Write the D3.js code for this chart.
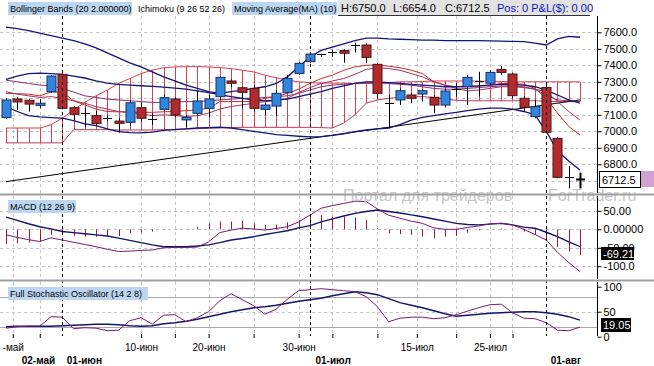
<!DOCTYPE html>
<html>
<head>
<meta charset="utf-8">
<script src="https://cdn.jsdelivr.net/npm/d3@7"></script>
<style>
  body { margin: 0; background: #fff; }
  svg { display: block; font-family: "Liberation Sans", Arial, sans-serif; }
</style>
</head>
<body>
<svg id="chart" width="654" height="366"></svg>
<script>
// candles, one per trading day (index = slot on the x axis)
const openP  = [7083,7196,7188,7157,7240,7345,7143,7105,7095,7080,7062,7054,7143,7077,7133,7196,7069,7109,7139,7210,
                7305,7264,7260,7133,7153,7234,7351,7422,7456,7476,7489,7520,7523,7406,7172,7190,7220,7226,7206,7159,
                7252,7270,7303,7291,7375,7347,7200,7089,7266,6957,6721,6710];
const highP  = [7200,7206,7198,7196,7341,7351,7153,7143,7123,7095,7079,7190,7173,7109,7220,7206,7099,7246,7220,7335,
                7315,7270,7280,7170,7250,7341,7422,7472,7470,7493,7497,7537,7533,7416,7220,7260,7230,7255,7220,7260,
                7290,7341,7361,7371,7396,7355,7214,7190,7291,6967,6790,6750];
const lowP   = [7075,7129,7119,7139,7234,7133,7068,7024,7038,7062,6992,7032,7058,7038,7119,7089,7024,7095,7085,7190,
                7270,7139,7119,7099,7093,7230,7341,7412,7452,7452,7416,7477,7412,7200,7018,7160,7170,7180,7109,7145,
                7210,7159,7210,7281,7341,7200,7119,7079,6988,6715,6654,6654];
const closeP = [7190,7178,7165,7170,7335,7139,7103,7113,7048,7078,7048,7173,7079,7074,7204,7099,7085,7184,7196,7327,
                7291,7236,7139,7159,7230,7321,7412,7468,7466,7479,7473,7522,7448,7230,7168,7246,7200,7246,7159,7244,
                7258,7327,7306,7357,7357,7216,7145,7149,6994,6721,6722,6712.5];

// Bollinger Bands (20, 2)
const bbUpper = [7632,7622,7610,7595,7580,7565,7550,7530,7505,7475,7445,7415,7390,7360,7330,7305,7280,7260,7240,7230,
                 7240,7250,7260,7270,7290,7330,7390,7450,7490,7510,7530,7550,7565,7565,7560,7558,7555,7553,7552,7550,
                 7550,7550,7550,7548,7546,7545,7544,7535,7523,7560,7575,7570];
const bbMid   = [7315,7335,7350,7353,7350,7345,7335,7323,7305,7292,7285,7280,7276,7272,7268,7262,7255,7245,7235,7222,
                 7210,7200,7190,7185,7190,7195,7210,7225,7240,7260,7275,7290,7300,7300,7295,7290,7285,7280,7275,7270,
                 7270,7272,7275,7280,7285,7285,7280,7270,7250,7220,7190,7170];
const bbLower = [7150,7120,7095,7087,7083,7080,7065,7045,7035,7015,6998,6992,6990,6995,7005,7010,7015,7020,7022,7025,
                 7020,7010,7000,6990,6980,6975,6970,6966,6968,6975,6985,6998,7008,7015,7020,7040,7068,7085,7095,7105,
                 7115,7125,7135,7140,7140,7135,7120,7100,7000,6880,6820,6765];

// Ichimoku (9 26 52 26)
const tenkan = [7230,7228,7225,7215,7238,7238,7185,7160,7135,7120,7118,7116,7115,7115,7118,7120,7125,7130,7140,7180,
                7180,7180,7180,7200,7210,7230,7255,7290,7320,7340,7370,7390,7400,7402,7395,7385,7370,7350,7300,7280,
                7270,7270,7275,7280,7290,7290,7285,7260,7200,7110,7030,6977];
const kijun  = [7310,7300,7290,7280,7275,7260,7238,7215,7205,7195,7190,7185,7180,7175,7175,7178,7180,7180,7185,7190,
                7195,7200,7200,7205,7210,7215,7230,7250,7270,7280,7285,7290,7295,7295,7290,7285,7280,7270,7260,7255,
                7255,7260,7265,7270,7275,7275,7270,7255,7220,7190,7185,7180];
const spanA  = [7020,7020,7020,7020,7040,7079,7130,7175,7215,7250,7290,7320,7350,7371,7385,7390,7392,7392,7390,7386,
                7380,7370,7360,7340,7325,7310,7300,7295,7292,7292,7292,7290,7290,7290,7295,7300,7300,7302,7305,7305,
                7305,7305,7304,7303,7302,7300,7300,7300,7300,7300,7300,7300];
const spanB  = [6930,6930,6930,6930,6930,6930,7010,7010,7010,7010,7008,7008,7008,7008,7010,7012,7014,7016,7018,7020,
                7022,7024,7024,7024,7024,7024,7024,7024,7022,7020,7050,7100,7170,7190,7200,7205,7208,7210,7205,7195,
                7188,7185,7185,7185,7185,7185,7185,7185,7182,7180,7180,7180];

// Moving Average (10)
const ma10 = [7240,7225,7215,7205,7210,7200,7185,7170,7150,7135,7120,7115,7105,7095,7100,7095,7090,7095,7110,7135,
              7150,7160,7170,7180,7185,7200,7235,7265,7290,7305,7320,7345,7375,7385,7380,7370,7350,7330,7300,7280,
              7260,7245,7250,7260,7270,7270,7265,7255,7240,7180,7120,7068];

// user trendline (slot, price)
const trendSlots = [0, 51];
const trendPrices = [6695, 7190];

// MACD (12 26 9)
const macdLine = [-15,-22,-28,-33,-23,-29,-35,-41,-47,-54,-60,-59,-57,-56,-50,-49,-49,-48,-34,-9,
                  -2,3,1,-2,2,7,20,38,57,64,70,76,75,55,38,30,22,16,4,0,
                  0,5,9,15,16,12,0,-14,-29,-62,-90,-114];
const macdSignal = [33,24,15,7,1,-6,-9,-12,-15,-18,-24,-30,-36,-42,-47,-47,-47,-45,-42,-36,
                    -29,-25,-20,-14,-9,-4,4,10,20,28,36,43,48,52,48,44,39,34,28,22,
                    16,13,12,14,16,12,6,3,-8,-20,-34,-47];
const macdHist = [-40,-38,-36,-33,-15,-15,-18,-20,-20,-18,-18,-11,-9,-6,-1,0,0,7,16,21,
                  21,23,16,12,13,19,25,34,38,34,34,32,25,3,-11,-13,-15,-20,-24,-20,
                  -18,-9,-3,0,2,-1,-6,-15,-29,-47,-60,-69.21];

// Full Stochastic (14 2 8)
const stochK = [17,20,21,21,40,39,16,18,17,12,13,32,38,25,43,44,30,38,50,72,
                86,74,62,45,55,75,92,94,96,94,92,90,80,60,30,37,39,39,36,38,
                44,51,58,64,65,48,37,36,28,13,12,19.05];
const stochD = [20,21,21,21,21,22,23,24,25,25,24,22,21,22,26,28,31,35,40,45,
                50,54,58,60,63,67,71,74,77,82,86,90,88,84,76,68,63,58,52,46,
                41,43,45,47,48,49,50,50,48,45,40,33];

// x axis
const xTickSlots  = [0.6, 3, 12, 15, 18, 22, 26, 29, 33, 36.5, 40, 43, 45];
const xTickLabels = ["-май", "", "10-июн", "", "20-июн", "", "30-июн", "", "", "15-июл", "", "25-июл", ""];
const monthSlots  = [5, 27, 48];
const boldLabels  = ["02-май", "01-июн", "01-июл", "01-авг"];
const boldSlots   = [1.4, 5.4, 27.5, 48.4];

const priceTicks = [6800, 6900, 7000, 7100, 7200, 7300, 7400, 7500, 7600];
const macdTicks  = [50, 0, -50, -100];
const macdTickText = ["50.00", "0.00000", "-50.00", "-100.0"];
const stochTicks = [100, 50, 0];

const svg = d3.select('#chart');
const W = 597;

const x = d3.scaleLinear().domain([0, 51]).range([6, 580]);
const yMain = d3.scaleLinear().domain([6700, 7600]).range([180.8, 32.3]);
const yMacd = d3.scaleLinear().domain([-100, 50]).range([266.3, 210.8]);
const ySto  = d3.scaleLinear().domain([0, 100]).range([336.7, 286.7]);

const panels = [
  { id: 'pMain', top: 16, bottom: 193 },
  { id: 'pMacd', top: 196, bottom: 279 },
  { id: 'pSto',  top: 282, bottom: 336 }
];
const defs = svg.append('defs');
panels.forEach((p) => {
  defs.append('clipPath').attr('id', p.id)
    .append('rect').attr('x', 0).attr('y', p.top).attr('width', W).attr('height', p.bottom - p.top);
});

const gridColor = '#c4c4c4';

// horizontal grids
function hGrid(scale, values, clip) {
  svg.append('g').attr('clip-path', `url(#${clip})`)
    .selectAll('line').data(values).enter().append('line')
      .attr('x1', 0).attr('x2', W)
      .attr('y1', (d) => Math.round(scale(d)) + 0.5).attr('y2', (d) => Math.round(scale(d)) + 0.5)
      .attr('stroke', gridColor).attr('stroke-dasharray', '3,3');
}
hGrid(yMain, [6700].concat(priceTicks), 'pMain');
hGrid(yMacd, macdTicks, 'pMacd');
hGrid(ySto, [50], 'pSto');

// stochastic levels 80 / 20
svg.append('g').selectAll('line').data([80, 20]).enter().append('line')
  .attr('x1', 0).attr('x2', W)
  .attr('y1', (d) => Math.round(ySto(d)) + 0.5).attr('y2', (d) => Math.round(ySto(d)) + 0.5)
  .attr('stroke', '#a8a8a8');

// vertical grids
panels.forEach((p) => {
  svg.append('g').selectAll('line').data(xTickSlots).enter().append('line')
    .attr('x1', (d) => Math.round(x(d)) + 0.5).attr('x2', (d) => Math.round(x(d)) + 0.5)
    .attr('y1', p.top).attr('y2', p.bottom)
    .attr('stroke', gridColor).attr('stroke-dasharray', '3,3');
});

// ---- main panel ----
const gMain = svg.append('g').attr('clip-path', 'url(#pMain)');
const idx = d3.range(openP.length);

// cloud hatch
const cloudColor = '#d8404c';
gMain.append('g').selectAll('line').data(idx).enter().append('line')
  .attr('x1', (i) => Math.round(x(i)) + 0.5).attr('x2', (i) => Math.round(x(i)) + 0.5)
  .attr('y1', (i) => yMain(spanA[i])).attr('y2', (i) => yMain(spanB[i]))
  .attr('stroke', cloudColor).attr('stroke-width', 1);

const lineOf = (arr, scale) => d3.line().x((d, i) => x(i)).y((d) => scale(d))(arr);

gMain.append('path').attr('d', lineOf(spanA, yMain)).attr('fill', 'none').attr('stroke', cloudColor);
gMain.append('path').attr('d', lineOf(spanB, yMain)).attr('fill', 'none').attr('stroke', '#c03a58');

// trendline
gMain.append('line')
  .attr('x1', x(trendSlots[0])).attr('y1', yMain(trendPrices[0]))
  .attr('x2', x(trendSlots[1])).attr('y2', yMain(trendPrices[1]))
  .attr('stroke', '#000').attr('stroke-width', 1);

// indicator lines
gMain.append('path').attr('d', lineOf(kijun, yMain)).attr('fill', 'none').attr('stroke', '#8a2c78').attr('stroke-width', 1);
gMain.append('path').attr('d', lineOf(tenkan, yMain)).attr('fill', 'none').attr('stroke', '#d02828').attr('stroke-width', 1);
gMain.append('path').attr('d', lineOf(ma10, yMain)).attr('fill', 'none').attr('stroke', '#a03464').attr('stroke-width', 1);
[bbUpper, bbMid, bbLower].forEach((arr) => {
  gMain.append('path').attr('d', lineOf(arr, yMain)).attr('fill', 'none').attr('stroke', '#14147a').attr('stroke-width', 1.3);
});

// candles
const candle = gMain.selectAll('g.candle').data(idx).enter().append('g').attr('class', 'candle');
candle.append('line')
  .attr('x1', (i) => Math.round(x(i)) + 0.5).attr('x2', (i) => Math.round(x(i)) + 0.5)
  .attr('y1', (i) => yMain(highP[i])).attr('y2', (i) => yMain(lowP[i]))
  .attr('stroke', '#000').attr('stroke-width', (i) => i === idx.length - 1 ? 2 : 1);
candle.each(function (i) {
  const g = d3.select(this);
  const cx = Math.round(x(i));
  const yo = yMain(openP[i]), yc = yMain(closeP[i]);
  const top = Math.min(yo, yc), h = Math.abs(yo - yc);
  if (h < 2) {
    g.append('line').attr('x1', cx - 4).attr('x2', cx + 5)
      .attr('y1', Math.round(top) + 0.5).attr('y2', Math.round(top) + 0.5)
      .attr('stroke', '#000').attr('stroke-width', i === idx.length - 1 ? 2 : 1);
  } else {
    const up = closeP[i] >= openP[i];
    g.append('rect').attr('x', cx - 4).attr('y', top).attr('width', 9).attr('height', h)
      .attr('fill', up ? '#3086dc' : '#b02a2e')
      .attr('stroke', up ? '#1c2c6c' : '#4c1414').attr('stroke-width', 1);
  }
});

// ---- MACD panel ----
const gMacd = svg.append('g').attr('clip-path', 'url(#pMacd)');
gMacd.selectAll('line.h').data(idx).enter().append('line')
  .attr('x1', (i) => Math.round(x(i)) + 0.5).attr('x2', (i) => Math.round(x(i)) + 0.5)
  .attr('y1', yMacd(0)).attr('y2', (i) => yMacd(macdHist[i]))
  .attr('stroke', '#a01838').attr('stroke-width', 1);
gMacd.append('path').attr('d', lineOf(macdSignal, yMacd)).attr('fill', 'none').attr('stroke', '#14146e').attr('stroke-width', 1.4);
gMacd.append('path').attr('d', lineOf(macdLine, yMacd)).attr('fill', 'none').attr('stroke', '#7a1a72').attr('stroke-width', 1);

// ---- Stochastic panel ----
const gSto = svg.append('g').attr('clip-path', 'url(#pSto)');
gSto.append('path').attr('d', lineOf(stochD, ySto)).attr('fill', 'none').attr('stroke', '#14146e').attr('stroke-width', 1.4);
gSto.append('path').attr('d', lineOf(stochK, ySto)).attr('fill', 'none').attr('stroke', '#7a1a72').attr('stroke-width', 1);

// month separators
svg.append('g').selectAll('line').data(monthSlots).enter().append('line')
  .attr('x1', (d) => Math.round(x(d)) + 0.5).attr('x2', (d) => Math.round(x(d)) + 0.5)
  .attr('y1', 16).attr('y2', 336)
  .attr('stroke', '#000').attr('stroke-dasharray', '3,3');

// watermark
const wm = svg.append('g').attr('fill', '#c6c6c6').attr('font-size', 16);
wm.append('text').attr('x', 343).attr('y', 201).text('Портал для трейдеров');
wm.append('text').attr('x', 548).attr('y', 201).text('ForTrader.ru');

// panel separators
svg.append('g').selectAll('line').data([194.5, 280.5]).enter().append('line')
  .attr('x1', 0).attr('x2', 654).attr('y1', (d) => d).attr('y2', (d) => d)
  .attr('stroke', '#a0a0a0').attr('stroke-width', 2);

// right axes
function rightAxis(scale, values, fmt, top, bottom) {
  const g = svg.append('g').attr('transform', `translate(${W + 0.5},0)`)
    .call(d3.axisRight(scale).tickValues(values).tickFormat(fmt).tickSize(4).tickPadding(2));
  g.select('.domain').remove();
  g.append('line').attr('x1', 0).attr('x2', 0).attr('y1', top).attr('y2', bottom).attr('stroke', '#000');
  g.selectAll('text').attr('font-size', 11).attr('fill', '#000').attr('font-family', null);
  g.selectAll('.tick line').attr('stroke', '#000');
  return g;
}
rightAxis(yMain, priceTicks, d3.format('.1f'), 16, 193);
rightAxis(yMacd, macdTicks, (d, i) => macdTickText[i], 196, 279);
rightAxis(ySto, stochTicks, d3.format('d'), 282, 336);

// value badges
svg.append('rect').attr('x', 599.5).attr('y', 171.5).attr('width', 41).attr('height', 16)
  .attr('fill', '#fff').attr('stroke', '#000');
svg.append('rect').attr('x', 641).attr('y', 171).attr('width', 13).attr('height', 16).attr('fill', '#d2a0d2');
svg.append('text').attr('x', 602).attr('y', 184).attr('font-size', 11).text(closeP[closeP.length - 1].toFixed(1));

svg.append('rect').attr('x', 601).attr('y', 247).attr('width', 33).attr('height', 13).attr('fill', '#000');
svg.append('text').attr('x', 603).attr('y', 258).attr('font-size', 11).attr('fill', '#fff')
  .text(macdHist[macdHist.length - 1].toFixed(2));

svg.append('rect').attr('x', 601).attr('y', 318).attr('width', 30).attr('height', 14).attr('fill', '#000');
svg.append('text').attr('x', 603).attr('y', 329).attr('font-size', 11).attr('fill', '#fff')
  .text(stochK[stochK.length - 1].toFixed(2));

// x axis
const xAxis = svg.append('g').attr('transform', 'translate(0,334)')
  .call(d3.axisBottom(x).tickValues(xTickSlots).tickFormat((d, i) => xTickLabels[i]).tickSize(4).tickPadding(6));
xAxis.select('.domain').remove();
xAxis.selectAll('text').attr('font-size', 10).attr('fill', '#000').attr('font-family', null);
xAxis.selectAll('.tick line').attr('stroke', '#000');

svg.append('g').selectAll('text').data(boldLabels).enter().append('text')
  .attr('x', (d, i) => x(boldSlots[i])).attr('y', 364)
  .attr('font-size', 10).attr('font-weight', 'bold').text((d) => d);

// header
const header = svg.append('g').attr('font-size', 11);
header.append('rect').attr('x', 338).attr('y', 0).attr('width', 252).attr('height', 15).attr('fill', '#e2e2e2');
header.append('line').attr('x1', 338).attr('x2', 590).attr('y1', 15.5).attr('y2', 15.5).attr('stroke', '#333');
header.append('rect').attr('x', 8).attr('y', 2).attr('width', 124).attr('height', 13).attr('fill', '#bcd6f2');
header.append('rect').attr('x', 232).attr('y', 2).attr('width', 105).attr('height', 13).attr('fill', '#bcd6f2');
const names = header.append('g').attr('font-size', 9);
names.append('text').attr('x', 10).attr('y', 12).text('Bollinger Bands (20 2.000000)');
names.append('text').attr('x', 138).attr('y', 12).text('Ichimoku (9 26 52 26)');
names.append('text').attr('x', 234).attr('y', 12).text('Moving Average(MA) (10)');
header.append('text').attr('x', 341).attr('y', 12).text('H:6750.0');
header.append('text').attr('x', 393).attr('y', 12).text('L:6654.0');
header.append('text').attr('x', 445).attr('y', 12).text('C:6712.5');
header.append('text').attr('x', 497).attr('y', 12).attr('fill', '#1010c0').text('Pos: 0 P&L($): 0.00');

// sub-panel titles
svg.append('rect').attr('x', 8).attr('y', 200).attr('width', 68).attr('height', 13).attr('fill', '#bcd6f2');
svg.append('text').attr('x', 10).attr('y', 210).attr('font-size', 9).text('MACD (12 26 9)');
svg.append('rect').attr('x', 8).attr('y', 287).attr('width', 140).attr('height', 13).attr('fill', '#bcd6f2');
svg.append('text').attr('x', 10).attr('y', 297).attr('font-size', 9).text('Full Stochastic Oscillator (14 2 8)');
</script>
</body>
</html>
